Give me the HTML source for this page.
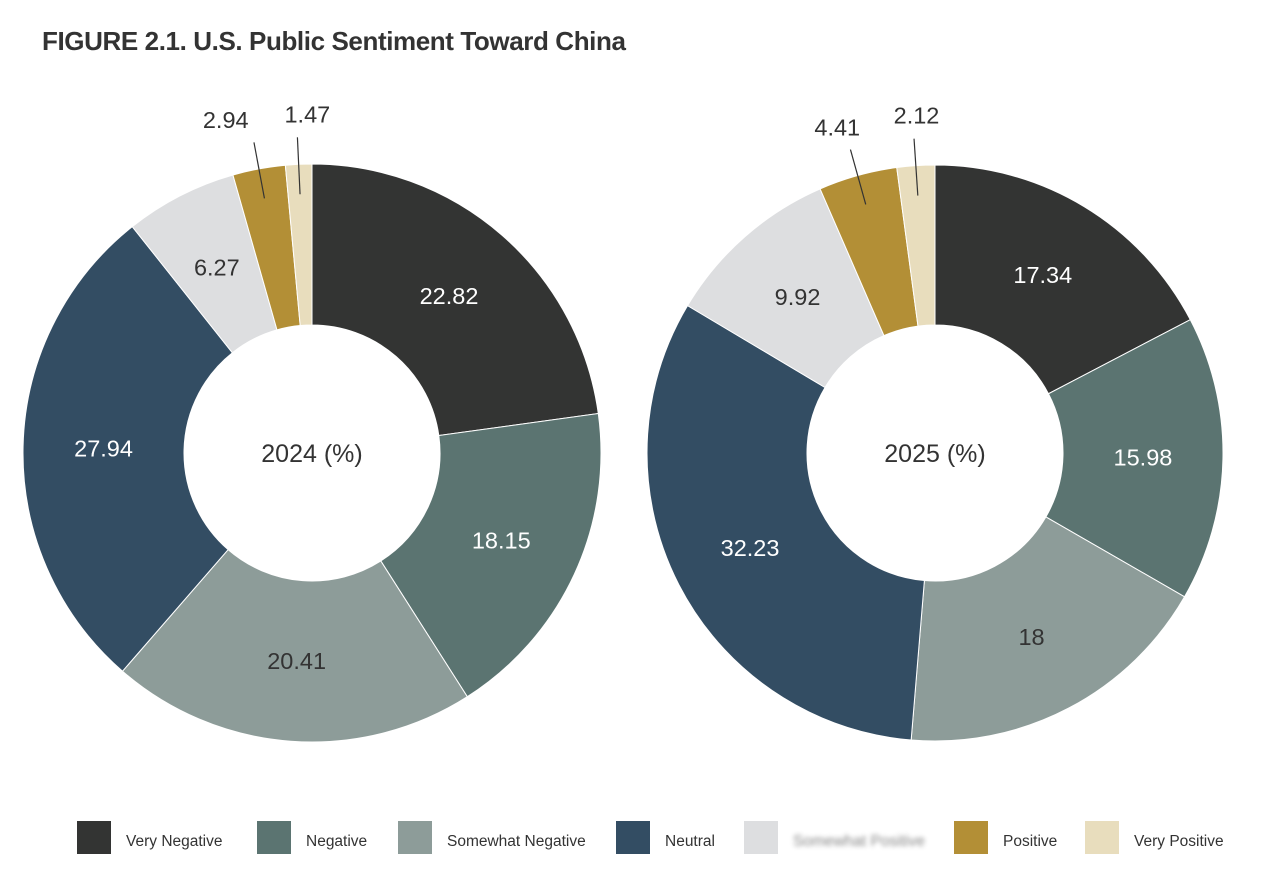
<!DOCTYPE html>
<html><head><meta charset="utf-8">
<style>
body{margin:0;background:#fff;font-family:"Liberation Sans",sans-serif;}
#wrap{position:relative;width:1280px;height:871px;overflow:hidden;}
h1{position:absolute;left:42px;top:26px;margin:0;font-size:26px;font-weight:bold;color:#333;letter-spacing:-0.4px}
</style></head><body>
<div id="wrap">
<h1>FIGURE 2.1. U.S. Public Sentiment Toward China</h1>
<svg id="svg" width="1280" height="871" style="position:absolute;left:0;top:0"></svg>
</div>
<script>
const categories=["Very Negative","Negative","Somewhat Negative","Neutral","Somewhat Positive","Positive","Very Positive"];
const values2024=[22.82,18.15,20.41,27.94,6.27,2.94,1.47];
const values2025=[17.34,15.98,18,32.23,9.92,4.41,2.12];
const years=["2024 (%)","2025 (%)"];
const colors=["#333433","#5b7471","#8d9c99","#334d63","#dddee0","#b38f36","#e8ddbd"];
const labelColors=["#fff","#fff","#333","#fff","#333","#333","#333"];
const nudges=[[0,0,0,0,0,-24,11],[0,0,0,0,0,-7,4]];
const NS="http://www.w3.org/2000/svg";
const svg=document.getElementById('svg');
function mk(t,a){const e=document.createElementNS(NS,t);for(const k in a)e.setAttribute(k,a[k]);return e;}
function pt(cx,cy,r,ang){return [cx+r*Math.sin(ang),cy-r*Math.cos(ang)];}
function donut(vals,cx,cy,R,r,title,idx){
  const g=mk('g',{});
  
  
  svg.appendChild(g);
  const tot=vals.reduce((a,b)=>a+b,0);let cum=0;
  vals.forEach((v,i)=>{
    const a0=cum/tot*2*Math.PI,a1=(cum+v)/tot*2*Math.PI,am=(a0+a1)/2;cum+=v;
    const [x0,y0]=pt(cx,cy,R,a0),[x1,y1]=pt(cx,cy,R,a1),[x2,y2]=pt(cx,cy,r,a1),[x3,y3]=pt(cx,cy,r,a0);
    const lg=(a1-a0)>Math.PI?1:0;
    const p=mk('path',{d:`M${x0},${y0}A${R},${R} 0 ${lg} 1 ${x1},${y1}L${x2},${y2}A${r},${r} 0 ${lg} 0 ${x3},${y3}Z`,fill:colors[i],stroke:'#fff','stroke-width':1});
    
    
    g.appendChild(p);
    const pct=v/tot*100;
    let tx,ty,col;
    if(pct<5){
      const [lx0,ly0]=pt(cx,cy,R-30,am),[lx1,ly1]=pt(cx,cy,R+27,am);
      const ln=mk('line',{x1:lx0,y1:ly0,x2:lx1,y2:ly1,stroke:'#333','stroke-width':1.2});
      
      
      g.appendChild(ln);
      [tx,ty]=pt(cx,cy,R+50,am);tx+=nudges[idx][i];col='#333';
    }else{[tx,ty]=pt(cx,cy,(R+r)/2,am);col=labelColors[i];}
    const t=mk('text',{x:tx,y:ty+8,'text-anchor':'middle','font-size':23.5,fill:col});
    
    
    t.textContent=String(v);g.appendChild(t);
  });
  const c=mk('text',{x:cx,y:cy+9,'text-anchor':'middle','font-size':25,fill:'#333'});
  
  
  c.textContent=title;g.appendChild(c);
}
donut(values2024,312,453,289,128,years[0],0);
donut(values2025,935,453,288,128,years[1],1);
const lx=[77,257,398,616,744,954,1085];
categories.forEach((c,i)=>{
  const s=mk('rect',{x:lx[i],y:821,width:34,height:33,fill:colors[i]});
  
  
  svg.appendChild(s);
  const t=mk('text',{x:lx[i]+49,y:846,'font-size':15.5,fill:'#333'});
  
  
  if(i===4){t.setAttribute('style','filter:blur(2.5px);opacity:0.6');}
  t.textContent=c;svg.appendChild(t);
});
</script>
</body></html>
